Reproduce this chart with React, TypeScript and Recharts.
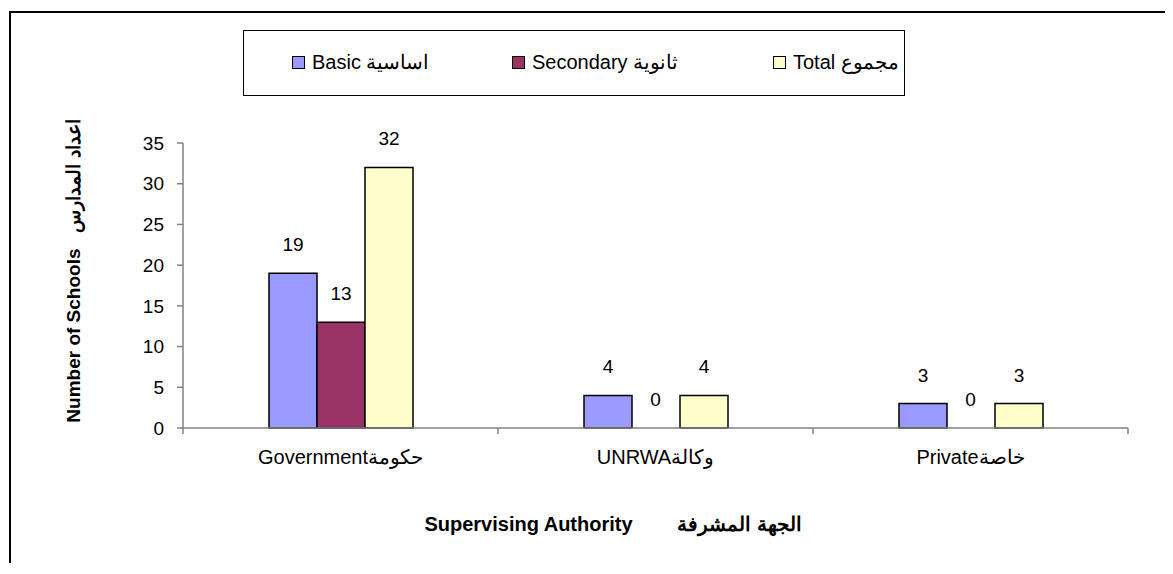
import React from 'react';
import { BarChart, Bar, XAxis, YAxis, LabelList, ReferenceDot } from 'recharts';

const categories = ['Governmentحكومة', 'UNRWAوكالة', 'Privateخاصة'];
const basic = [19, 4, 3];
const secondary = [13, 0, 0];
const total = [32, 4, 3];
const yTicks = [0, 5, 10, 15, 20, 25, 30, 35];

const seriesInfo = [
  { key: 'basic', name: 'Basic', arabic: 'اساسية', color: '#9999FF' },
  { key: 'secondary', name: 'Secondary', arabic: 'ثانوية', color: '#993366' },
  { key: 'total', name: 'Total', arabic: 'مجموع', color: '#FFFFCC' },
];

const data = categories.map((c, i) => ({
  category: c,
  basic: basic[i],
  secondary: secondary[i],
  total: total[i],
}));

const FONT = '"Liberation Sans", Arial, sans-serif';
const AXIS = '#808080';
const W = 1150;
const H = 550;
const M = { top: 130, right: 33, left: 112, bottom: 95 };
const Y_W = 60;
const band = (W - M.left - Y_W - M.right) / categories.length;

const CategoryTick = (props: any) => {
  const { x, y, payload, index } = props;
  return (
    <g>
      <line x1={x - band / 2} x2={x - band / 2} y1={y} y2={y + 6} stroke={AXIS} strokeWidth={1.5} />
      {index === categories.length - 1 && (
        <line x1={x + band / 2} x2={x + band / 2} y1={y} y2={y + 6} stroke={AXIS} strokeWidth={1.5} />
      )}
      <text x={x} y={y + 36} textAnchor="middle" fontSize={20} fontFamily={FONT} fill="#000">
        {payload.value}
      </text>
    </g>
  );
};

const ValueLabel = (props: any) => {
  const { x, y, width, height, value } = props;
  const top = Math.min(y, y + height);
  return (
    <text x={x + width / 2} y={top - 22} textAnchor="middle" fontSize={19} fontFamily={FONT} fill="#000">
      {value}
    </text>
  );
};

// recharts skips labels of zero-height bars, so those are hung on a dot
const ZeroLabel = (props: any) => {
  const { viewBox } = props;
  const cx = viewBox.x + viewBox.width / 2;
  const cy = viewBox.y + viewBox.height / 2;
  return (
    <text x={cx} y={cy - 22} textAnchor="middle" fontSize={19} fontFamily={FONT} fill="#000">
      0
    </text>
  );
};

const YTitle = () => (
  <text
    x={62}
    y={258}
    transform="rotate(-90 62 258)"
    textAnchor="middle"
    dominantBaseline="central"
    fontSize={19}
    fontWeight="bold"
    fontFamily={FONT}
    fill="#000"
  >
    Number of Schools{'\u00a0\u00a0\u00a0'}اعداد المدارس
  </text>
);

const XTitle = () => (
  <text
    x={602}
    y={511}
    textAnchor="middle"
    dominantBaseline="central"
    fontSize={20}
    fontWeight="bold"
    fontFamily={FONT}
    fill="#000"
  >
    Supervising Authority{'\u00a0\u00a0\u00a0\u00a0\u00a0\u00a0\u00a0\u00a0'}الجهة المشرفة
  </text>
);

const legendLeft = [48, 268, 529];

const LegendBox = () => (
  <div
    style={{
      position: 'absolute',
      left: 232,
      top: 17,
      width: 662,
      height: 66,
      border: '1px solid #000',
      boxSizing: 'border-box',
      background: '#fff',
      fontFamily: FONT,
      fontSize: 20,
    }}
  >
    {seriesInfo.map((s, i) => (
      <div
        key={s.key}
        style={{
          position: 'absolute',
          left: legendLeft[i],
          top: 19,
          display: 'flex',
          alignItems: 'center',
          whiteSpace: 'nowrap',
        }}
      >
        <span
          style={{
            display: 'inline-block',
            width: 11,
            height: 11,
            background: s.color,
            border: '1.5px solid #000',
            marginRight: 7,
          }}
        />
        <span>
          {s.name} {s.arabic}
        </span>
      </div>
    ))}
  </div>
);

export default function App() {
  return (
    <div
      style={{
        position: 'relative',
        left: 1,
        top: 3,
        width: 1156,
        height: 555,
        borderTop: '2px solid #000',
        borderLeft: '2px solid #000',
        boxSizing: 'border-box',
        overflow: 'hidden',
        background: '#fff',
      }}
    >
      <BarChart width={W} height={H} data={data} margin={M} barGap={0} barSize={48}>
        <XAxis
          dataKey="category"
          axisLine={{ stroke: AXIS, strokeWidth: 1.5 }}
          tickLine={false}
          tickSize={0}
          tickMargin={0}
          height={40}
          tick={<CategoryTick />}
          interval={0}
        />
        <YAxis
          width={Y_W}
          domain={[0, 35]}
          ticks={yTicks}
          interval={0}
          axisLine={{ stroke: AXIS, strokeWidth: 1.5 }}
          tickLine={{ stroke: AXIS, strokeWidth: 1.5 }}
          tickSize={6}
          tickMargin={13}
          tick={{ fill: '#000', fontSize: 19, fontFamily: FONT }}
        />
        {seriesInfo.map((s) => (
          <Bar key={s.key} dataKey={s.key} fill={s.color} stroke="#000" strokeWidth={1.5} isAnimationActive={false}>
            <LabelList dataKey={s.key} content={<ValueLabel />} />
          </Bar>
        ))}
        {secondary.map((v, i) =>
          v === 0 ? (
            <ReferenceDot
              key={categories[i]}
              x={categories[i]}
              y={v}
              r={1}
              fill="none"
              stroke="none"
              ifOverflow="visible"
              label={<ZeroLabel />}
            />
          ) : null
        )}
        <YTitle />
        <XTitle />
      </BarChart>
      <LegendBox />
    </div>
  );
}
